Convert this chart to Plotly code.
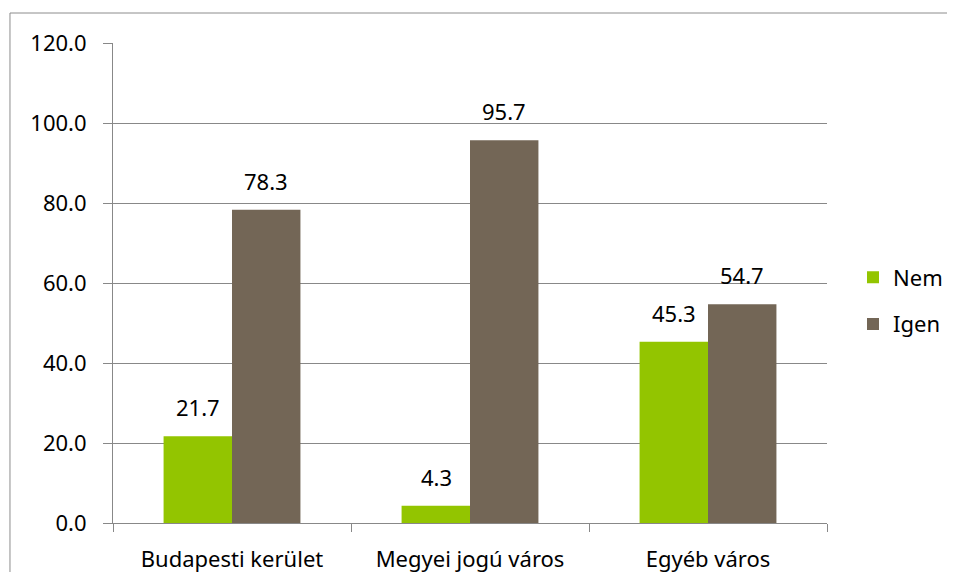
import plotly.graph_objects as go

categories = ["Budapesti kerület", "Megyei jogú város", "Egyéb város"]
nem = [21.7, 4.3, 45.3]
igen = [78.3, 95.7, 54.7]
y_ticks = [0, 20, 40, 60, 80, 100, 120]

GREEN = "#93C500"
BROWN = "#736656"
GRID = "#888888"
BORDER = "#8c8c8c"
FONT = "Noto Sans"
FS = 22

fig = go.Figure()
fig.add_trace(go.Bar(name="Nem", x=categories, y=nem, legendgroup="a",
                     marker=dict(color=GREEN, line=dict(width=0))))
fig.add_trace(go.Bar(name="Igen", x=categories, y=igen, legendgroup="b",
                     marker=dict(color=BROWN, line=dict(width=0))))

annotations = []
for series, shift in ((nem, -34), (igen, 34)):
    for c, v in zip(categories, series):
        annotations.append(dict(x=c, y=v, xref="x", yref="y", text=f"{v:.1f}",
                                showarrow=False, xshift=shift, yanchor="bottom", yshift=12,
                                font=dict(family=FONT, size=FS, color="#000000")))

W, H = 939, 564
fig.update_layout(
    width=W, height=H,
    margin=dict(l=105, r=W - 819, t=35, b=H - 515, autoexpand=False),
    paper_bgcolor="white", plot_bgcolor="white",
    barmode="group", bargap=0.425, bargroupgap=0,
    font=dict(family=FONT, size=FS, color="#000000"),
    legend=dict(xref="container", yref="container", x=845 / W, y=1 - 293 / H,
                xanchor="left", yanchor="middle",
                font=dict(family=FONT, size=FS), tracegroupgap=15, traceorder="grouped",
                itemwidth=30, bgcolor="rgba(0,0,0,0)"),
    annotations=annotations,
    shapes=[
        dict(type="line", xref="paper", yref="paper", x0=-0.1443, x1=1.3,
             y0=1.0625, y1=1.0625, line=dict(color=BORDER, width=1), layer="below"),
        dict(type="line", xref="paper", yref="paper", x0=-0.1443, x1=-0.1443,
             y0=-0.3, y1=1.0625, line=dict(color=BORDER, width=1), layer="below"),
    ],
    xaxis=dict(showline=True, linecolor=GRID, linewidth=1, ticks="outside",
               tickson="boundaries", ticklen=8, tickcolor=GRID, showgrid=False,
               automargin=False,
               ticklabelstandoff=17, tickfont=dict(family=FONT, size=FS)),
    yaxis=dict(range=[0, 120], tickvals=y_ticks, tickformat=".1f", showline=True,
               linecolor=GRID, linewidth=1, ticks="outside", ticklen=9, tickcolor=GRID,
               showgrid=True, gridcolor=GRID, gridwidth=1, zeroline=False,
               automargin=False,
               ticklabelstandoff=12, tickfont=dict(family=FONT, size=FS)),
)

fig.write_html("out.html", post_script="document.body.style.overflow='hidden';")
